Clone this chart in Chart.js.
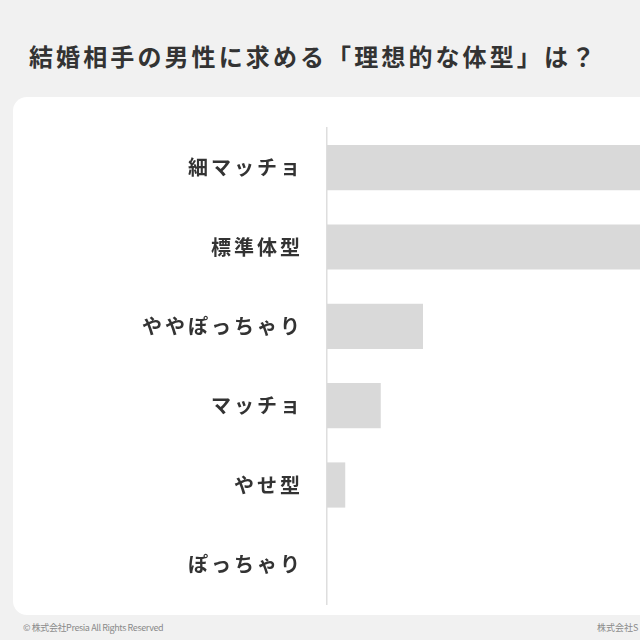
<!DOCTYPE html>
<html lang="ja">
<head>
<meta charset="utf-8">
<script src="https://cdn.jsdelivr.net/npm/chart.js@4"></script>
<style>
  html, body { margin: 0; padding: 0; }
  body {
    width: 640px; height: 640px; overflow: hidden; position: relative;
    background: #f1f1f1;
    font-family: "Noto Sans CJK JP", "Noto Sans", sans-serif;
  }
  #title {
    position: absolute; left: 29px; top: 38px;
    font-size: 24px; font-weight: 700; color: #333;
    letter-spacing: 3.1px; white-space: nowrap; line-height: 36px;
  }
  #card {
    position: absolute; left: 13px; top: 97px;
    width: 900px; height: 518px;
    background: #fff; border-radius: 14px;
  }
  #bodyChart { position: absolute; left: 0; top: 0; }
  .foot {
    position: absolute; top: 621px; font-size: 9px; color: #8a8a8a;
    white-space: nowrap; line-height: 14px;
  }
</style>
</head>
<body>
<div id="title">結婚相手の男性に求める「理想的な体型」は？</div>
<div id="card">
  <canvas id="bodyChart" width="860" height="518"></canvas>
</div>
<div class="foot" style="left:23px; letter-spacing:-0.4px;">© 株式会社Presia All Rights Reserved</div>
<div class="foot" style="left:597px;">株式会社S</div>

<script>
// --- データ ---
const categories = ['細マッチョ', '標準体型', 'ややぽっちゃり', 'マッチョ', 'やせ型', 'ぽっちゃり'];
const shares = [44.6, 37.9, 10.0, 5.6, 1.9, 0];   // % (上2本は画面外まで伸びる)
const axisMax = 50;

const BAR_COLOR = '#d9d9d9';
const AXIS_COLOR = '#dedede';

// ラベルの字間をあける
const letterSpacingPlugin = {
    id: 'letterSpacing',
    beforeDraw(chart) { chart.ctx.letterSpacing = '3px'; }
};

const ctx = document.getElementById('bodyChart').getContext('2d');
new Chart(ctx, {
    type: 'bar',
    data: {
        labels: categories,
        datasets: [{
            data: shares,
            backgroundColor: BAR_COLOR,
            borderWidth: 0,
            barPercentage: 0.57,
            categoryPercentage: 1
        }]
    },
    options: {
        indexAxis: 'y',
        responsive: false,
        animation: false,
        layout: { padding: { top: 31, bottom: 11, left: 0, right: 66 } },
        plugins: {
            legend: { display: false },
            tooltip: { enabled: false }
        },
        scales: {
            x: {
                display: false,
                min: 0,
                max: axisMax
            },
            y: {
                grid: { display: false, drawTicks: false },
                border: { display: true, color: AXIS_COLOR, width: 1.5 },
                ticks: {
                    padding: 24,
                    color: '#333',
                    font: { family: '"Noto Sans CJK JP"', size: 20, weight: '700' }
                },
                afterFit(scale) {
                    scale.width = 314;
                    scale.paddingTop = 0;
                    scale.paddingBottom = 0;
                }
            }
        }
    },
    plugins: [letterSpacingPlugin]
});
</script>
</body>
</html>
